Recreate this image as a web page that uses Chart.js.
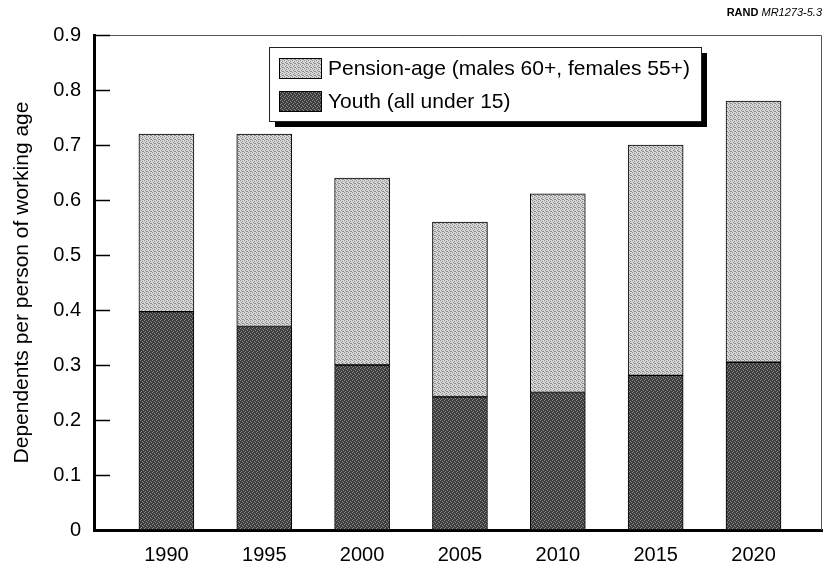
<!DOCTYPE html>
<html>
<head>
<meta charset="utf-8">
<script src="https://cdn.jsdelivr.net/npm/chart.js@4"></script>
<style>
  body { margin: 0; background: #fff; }
  #wrap { width: 825px; height: 565px; position: relative; }
</style>
</head>
<body>
<div id="wrap"><canvas id="depChart" width="825" height="565"></canvas></div>
<script>
// data
const years = [1990, 1995, 2000, 2005, 2010, 2015, 2020];
const youth = [0.397, 0.37, 0.30, 0.242, 0.25, 0.281, 0.305];
const pension = [0.323, 0.35, 0.34, 0.318, 0.361, 0.419, 0.475];
const yTicks = [0, 0.1, 0.2, 0.3, 0.4, 0.5, 0.6, 0.7, 0.8, 0.9];

const FONT = '"Liberation Sans", Arial, Helvetica, sans-serif';

// little dither patterns to mimic the halftone fills
function makePattern(base, dot, cells) {
    const c = document.createElement('canvas');
    c.width = 4; c.height = 4;
    const g = c.getContext('2d');
    g.fillStyle = base;
    g.fillRect(0, 0, 4, 4);
    g.fillStyle = dot;
    cells.forEach(p => g.fillRect(p[0], p[1], 1, 1));
    return g.createPattern(c, 'repeat');
}
const lightFill = makePattern('#d6d6d6', '#8c8c8c', [[0, 0], [2, 1], [1, 2], [3, 3], [2, 3]]);
const darkFill = makePattern('#3c3c3c', '#8a8a8a', [[0, 0], [2, 1], [1, 3], [3, 2]]);

// inward tick marks, frame lines, legend box and source note
const extras = {
    id: 'extras',
    afterDraw(chart) {
        const ctx = chart.ctx;
        const a = chart.chartArea;
        const y = chart.scales.y;
        ctx.save();

        // thin frame on top and right
        ctx.strokeStyle = '#555';
        ctx.lineWidth = 1;
        ctx.beginPath();
        ctx.moveTo(a.left, a.top + 0.5);
        ctx.lineTo(a.right - 0.5, a.top + 0.5);
        ctx.lineTo(a.right - 0.5, a.bottom);
        ctx.stroke();

        // y ticks pointing into the plot
        ctx.strokeStyle = '#000';
        ctx.lineWidth = 1.5;
        yTicks.forEach(v => {
            const py = Math.round(y.getPixelForValue(v)) + 0.5;
            ctx.beginPath();
            ctx.moveTo(a.left, py);
            ctx.lineTo(a.left + 16, py);
            ctx.stroke();
        });

        // legend with drop shadow
        const bx = 269, by = 47, bw = 432, bh = 74;
        ctx.fillStyle = '#000';
        ctx.fillRect(bx + 6, by + 6, bw, bh);
        ctx.fillStyle = '#fff';
        ctx.fillRect(bx, by, bw, bh);
        ctx.strokeStyle = '#222';
        ctx.lineWidth = 1;
        ctx.strokeRect(bx + 0.5, by + 0.5, bw, bh);

        const items = [
            { label: chart.data.datasets[1].label, fill: lightFill, y: 58 },
            { label: chart.data.datasets[0].label, fill: darkFill, y: 91 }
        ];
        ctx.font = '21px ' + FONT;
        ctx.textBaseline = 'middle';
        items.forEach(it => {
            ctx.fillStyle = it.fill;
            ctx.fillRect(279, it.y, 42, 20);
            ctx.strokeStyle = '#000';
            ctx.strokeRect(279.5, it.y + 0.5, 42, 20);
            ctx.fillStyle = '#000';
            ctx.fillText(it.label, 328, it.y + 11);
        });

        // source tag, top right
        ctx.textBaseline = 'alphabetic';
        ctx.textAlign = 'right';
        ctx.font = 'italic 11px ' + FONT;
        ctx.fillText('MR1273-5.3', 822, 16);
        const w = ctx.measureText('MR1273-5.3').width;
        ctx.font = 'bold 11px ' + FONT;
        ctx.fillText('RAND ', 822 - w, 16);

        ctx.restore();
    }
};

const ctx = document.getElementById('depChart').getContext('2d');
new Chart(ctx, {
    type: 'bar',
    data: {
        datasets: [
            {
                label: 'Youth (all under 15)',
                data: years.map((yr, i) => ({ x: yr, y: youth[i] })),
                backgroundColor: darkFill,
                borderColor: '#000',
                borderWidth: 1,
                borderSkipped: false,
                barThickness: 55
            },
            {
                label: 'Pension-age (males 60+, females 55+)',
                data: years.map((yr, i) => ({ x: yr, y: pension[i] })),
                backgroundColor: lightFill,
                borderColor: '#000',
                borderWidth: 1,
                borderSkipped: false,
                barThickness: 55
            }
        ]
    },
    options: {
        responsive: false,
        animation: false,
        layout: { padding: { top: 35, right: 3, left: 0, bottom: 0 } },
        plugins: {
            legend: { display: false },
            tooltip: { enabled: false }
        },
        scales: {
            x: {
                type: 'linear',
                stacked: true,
                offset: false,
                min: 1986.3,
                max: 2023.5,
                afterBuildTicks: s => { s.ticks = years.map(v => ({ value: v })); },
                afterFit: s => { s.height = 35; },
                grid: { display: false, drawTicks: false },
                border: { display: true, color: '#000', width: 3 },
                ticks: {
                    color: '#000',
                    padding: 13,
                    font: { family: FONT, size: 20 },
                    callback: v => String(v)
                }
            },
            y: {
                stacked: true,
                min: 0,
                max: 0.9,
                afterBuildTicks: s => { s.ticks = yTicks.map(v => ({ value: v })); },
                afterFit: s => { s.width = 94; },
                grid: { display: false, drawTicks: false },
                border: { display: true, color: '#000', width: 3 },
                ticks: {
                    color: '#000',
                    padding: 13,
                    font: { family: FONT, size: 20 },
                    callback: v => String(+v.toFixed(1))
                },
                title: {
                    display: true,
                    text: 'Dependents per person of working age',
                    color: '#000',
                    font: { family: FONT, size: 21 },
                    padding: { top: 10, bottom: 0 }
                }
            }
        }
    },
    plugins: [extras]
});
</script>
</body>
</html>
